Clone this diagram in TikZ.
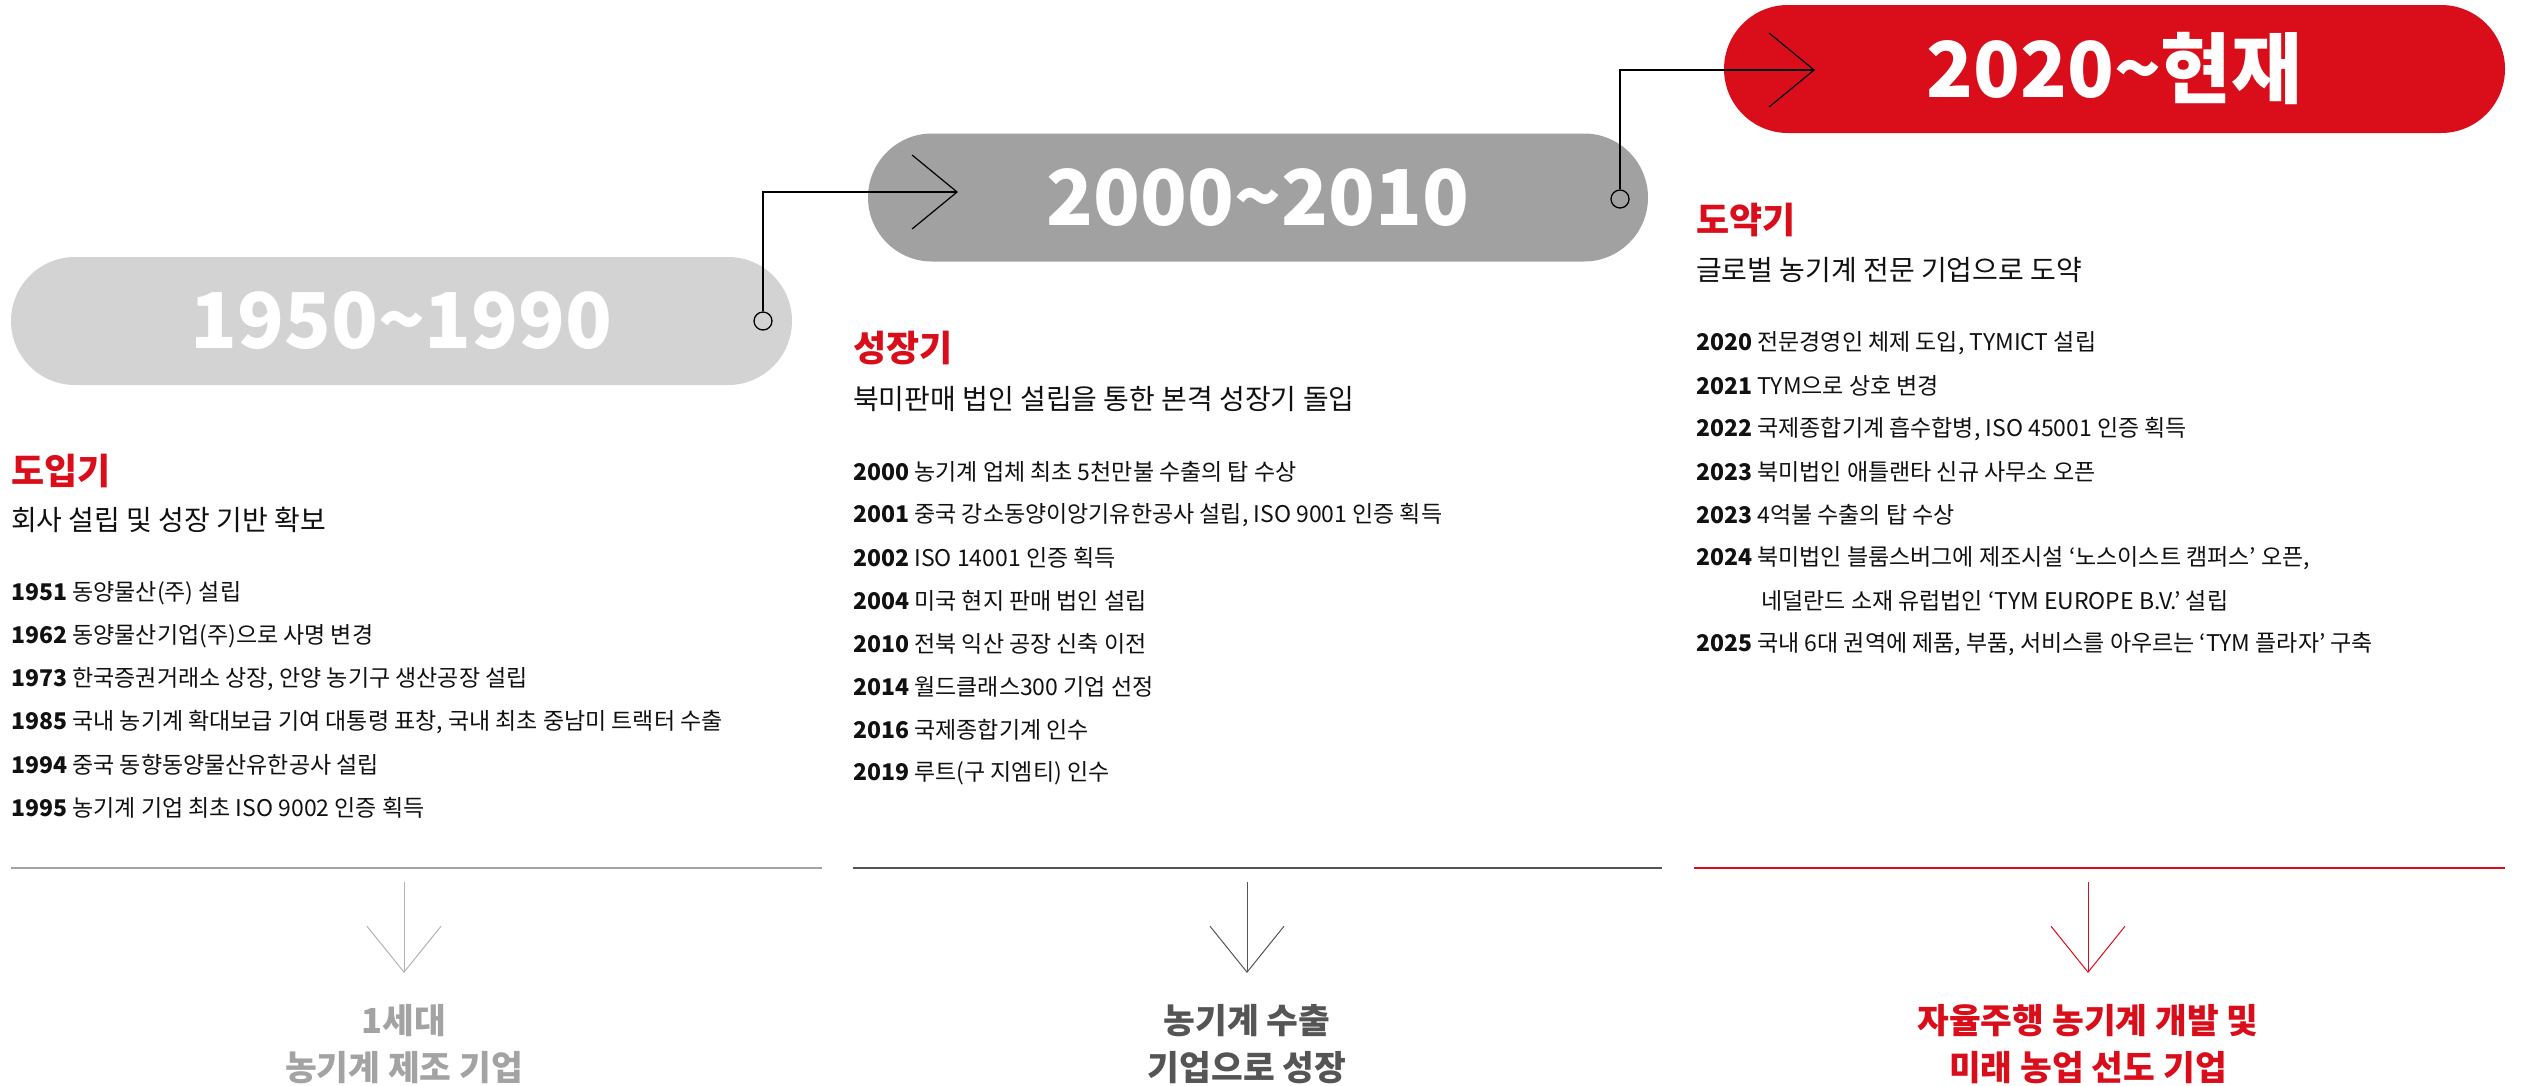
\documentclass[tikz,border=0pt]{standalone}
\usepackage{fontspec}
\setmainfont{Noto Sans CJK KR}
\usetikzlibrary{arrows.meta}
\definecolor{tymred}{RGB}{217,14,26}
\definecolor{pillA}{RGB}{211,211,211}
\definecolor{pillB}{RGB}{160,161,160}
\definecolor{ink}{RGB}{17,17,17}
\definecolor{greyA}{RGB}{163,163,163}
\definecolor{greyB}{RGB}{85,85,85}
\tikzset{
  pill/.style={rounded corners=64pt, minimum height=128pt, inner sep=0pt, text=white, font=\fontsize{77}{80}\selectfont\bfseries},
  ring/.style={circle, draw=black, line width=1.3pt, minimum size=18pt, inner sep=0pt},
  link/.style={line width=1.2pt, -{Straight Barb[length=45pt,width=74pt]}},
  head/.style={anchor=west, inner sep=0pt, text=tymred, font=\fontsize{36}{40}\selectfont\bfseries},
  sub/.style={anchor=west, inner sep=0pt, text=ink, font=\fontsize{28}{32}\selectfont},
  entry/.style={anchor=west, inner sep=0pt, text=ink, font=\fontsize{23}{27}\selectfont},
  rule/.style={line width=2pt},
  down/.style={line width=1pt, -{Straight Barb[length=46pt,width=74pt]}},
  outcome/.style={align=center, inner sep=0pt, font=\fontsize{34.5}{47}\selectfont\bfseries}
}
\begin{document}
\begin{tikzpicture}[x=1pt,y=-1pt]
  %%%%% START %%%%%
  \useasboundingbox (0,0) rectangle (2523,1085);

  % period pills
  \node[pill, fill=pillA, minimum width=781pt] (p1) at (401.5,321) {1950\textasciitilde 1990};
  \node[pill, fill=pillB, minimum width=780pt] (p2) at (1258,197.5) {2000\textasciitilde 2010};
  \node[pill, fill=tymred, minimum width=781pt] (p3) at (2114.5,69) {2020\textasciitilde 현재};

  \node[ring] (r1) at (763,321) {};
  \node[ring] (r2) at (1620,199) {};
  \coordinate (t2) at (958,192);
  \coordinate (t3) at (1815,70);
  \draw[link] (r1) |- (t2);
  \draw[link] (r2) |- (t3);

  % 1950~1990
  \node[head] (h1) at (11,471) {도입기};
  \node[sub] (s1) at (11,520) {회사 설립 및 성장 기반 확보};
  \node[entry] (e1a) at (11,593) {\textbf{1951} 동양물산(주) 설립};
  \node[entry] (e1b) at (11,636) {\textbf{1962} 동양물산기업(주)으로 사명 변경};
  \node[entry] (e1c) at (11,679) {\textbf{1973} 한국증권거래소 상장, 안양 농기구 생산공장 설립};
  \node[entry] (e1d) at (11,722) {\textbf{1985} 국내 농기계 확대보급 기여 대통령 표창, 국내 최초 중남미 트랙터 수출};
  \node[entry] (e1e) at (11,765) {\textbf{1994} 중국 동향동양물산유한공사 설립};
  \node[entry] (e1f) at (11,808) {\textbf{1995} 농기계 기업 최초 ISO 9002 인증 획득};

  % 2000~2010
  \node[head] (h2) at (853,348) {성장기};
  \node[sub] (s2) at (853,399) {북미판매 법인 설립을 통한 본격 성장기 돌입};
  \node[entry] (e2a) at (853,472) {\textbf{2000} 농기계 업체 최초 5천만불 수출의 탑 수상};
  \node[entry] (e2b) at (853,515) {\textbf{2001} 중국 강소동양이앙기유한공사 설립, ISO 9001 인증 획득};
  \node[entry] (e2c) at (853,558) {\textbf{2002} ISO 14001 인증 획득};
  \node[entry] (e2d) at (853,601) {\textbf{2004} 미국 현지 판매 법인 설립};
  \node[entry] (e2e) at (853,644) {\textbf{2010} 전북 익산 공장 신축 이전};
  \node[entry] (e2f) at (853,687) {\textbf{2014} 월드클래스300 기업 선정};
  \node[entry] (e2g) at (853,730) {\textbf{2016} 국제종합기계 인수};
  \node[entry] (e2h) at (853,773) {\textbf{2019} 루트(구 지엠티) 인수};

  % 2020~
  \node[head] (h3) at (1696,220) {도약기};
  \node[sub] (s3) at (1696,270) {글로벌 농기계 전문 기업으로 도약};
  \node[entry] (e3a) at (1696,343) {\textbf{2020} 전문경영인 체제 도입, TYMICT 설립};
  \node[entry] (e3b) at (1696,386) {\textbf{2021} TYM으로 상호 변경};
  \node[entry] (e3c) at (1696,429) {\textbf{2022} 국제종합기계 흡수합병, ISO 45001 인증 획득};
  \node[entry] (e3d) at (1696,472) {\textbf{2023} 북미법인 애틀랜타 신규 사무소 오픈};
  \node[entry] (e3e) at (1696,515) {\textbf{2023} 4억불 수출의 탑 수상};
  \node[entry] (e3f) at (1696,558) {\textbf{2024} 북미법인 블룸스버그에 제조시설 ‘노스이스트 캠퍼스’ 오픈,};
  \node[entry] (e3g) at (1761,601) {네덜란드 소재 유럽법인 ‘TYM EUROPE B.V.’ 설립};
  \node[entry] (e3h) at (1696,644) {\textbf{2025} 국내 6대 권역에 제품, 부품, 서비스를 아우르는 ‘TYM 플라자’ 구축};

  % outcomes
  \draw[rule, greyA] (11,868) -- (822,868);
  \draw[rule, greyB] (853,868) -- (1662,868);
  \draw[rule, tymred] (1694,868) -- (2505,868);

  \coordinate (a1) at (404,882);
  \coordinate (b1) at (404,973);
  \coordinate (a2) at (1247,882);
  \coordinate (b2) at (1247,973);
  \coordinate (a3) at (2088,882);
  \coordinate (b3) at (2088,973);
  \draw[down, black!30] (a1) -- (b1);
  \draw[down, greyB] (a2) -- (b2);
  \draw[down, tymred] (a3) -- (b3);

  \node[outcome, text=greyA] (o1) at (404,1044) {1세대\\농기계 제조 기업};
  \node[outcome, text=greyB] (o2) at (1247,1044) {농기계 수출\\기업으로 성장};
  \node[outcome, text=tymred] (o3) at (2088,1044) {자율주행 농기계 개발 및\\미래 농업 선도 기업};
  %%%%% END %%%%%
\end{tikzpicture}
\end{document}
